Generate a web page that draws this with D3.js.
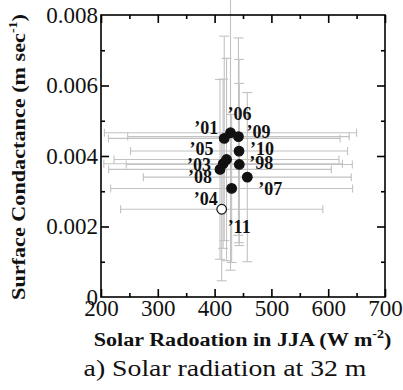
<!DOCTYPE html>
<html>
<head>
<meta charset="utf-8">
<script src="https://cdn.jsdelivr.net/npm/d3@7"></script>
<style>
  html, body { margin: 0; padding: 0; background: #fff; }
  svg { display: block; }
</style>
</head>
<body>
<svg id="chart" width="403" height="390"></svg>
<script>
// Summer (JJA) solar radiation vs. surface conductance, one point per year
const years        = ["’98", "’01", "’03", "’04", "’05", "’06", "’07", "’08", "’09", "’10", "’11"];
const radiation    = [443.5, 417, 415, 412.5, 421, 428, 457.6, 409.5, 442, 443, 430];
const radiationSd  = [199, 204, 210, 178, 198, 222, 183, 196, 195, 191, 213];
const conductance  = [0.00376, 0.0045, 0.00378, 0.00249, 0.0039, 0.00466, 0.0034, 0.00362, 0.00455, 0.00414, 0.00308];
const conductanceSd= [0.0023, 0.0029, 0.0024, 0.00203, 0.00287, 0.0039, 0.0024, 0.00255, 0.0028, 0.0026, 0.0021];
const openYears    = ["’04"];

const xTicks = [200, 300, 400, 500, 600, 700];
const yTicks = [0, 0.002, 0.004, 0.006, 0.008];
const yTickLabels = ["0", "0.002", "0.004", "0.006", "0.008"];

// label placement next to each marker (pixels)
const labelOffsets = [[10, 5], [-30, -4], [-36, 7], [-28, -4], [-37, -5], [-3, -13], [11, 18], [-32, 14], [8, 1], [11, 4], [-4, 45]];

const svg = d3.select("#chart");
const plotL = 101, plotR = 385, plotT = 15, plotB = 297;

const x = d3.scaleLinear().domain([200, 700]).range([plotL, plotR]);
const y = d3.scaleLinear().domain([0, 0.008]).range([plotB, plotT]);

const serif = "'Liberation Serif', 'Times New Roman', serif";

const rows = years.map((yr, i) => ({
  year: yr, rad: radiation[i], radSd: radiationSd[i],
  gs: conductance[i], gsSd: conductanceSd[i],
  open: openYears.includes(yr), off: labelOffsets[i]
}));

// error bars (±1 SD in both directions)
const errColor = "#c2c2c2";
const eb = svg.append("g").attr("stroke", errColor).attr("stroke-width", 1.1).attr("fill", "none");
const capH = 4, capV = 5;
rows.forEach(d => {
  const cx = x(d.rad), cy = y(d.gs);
  const x0 = x(d.rad - d.radSd), x1 = x(d.rad + d.radSd);
  const y0 = y(d.gs - d.gsSd), y1 = y(d.gs + d.gsSd);
  eb.append("line").attr("x1", x0).attr("x2", x1).attr("y1", cy).attr("y2", cy);
  eb.append("line").attr("x1", x0).attr("x2", x0).attr("y1", cy - capH).attr("y2", cy + capH);
  eb.append("line").attr("x1", x1).attr("x2", x1).attr("y1", cy - capH).attr("y2", cy + capH);
  eb.append("line").attr("x1", cx).attr("x2", cx).attr("y1", y0).attr("y2", y1);
  eb.append("line").attr("x1", cx - capV).attr("x2", cx + capV).attr("y1", y0).attr("y2", y0);
  eb.append("line").attr("x1", cx - capV).attr("x2", cx + capV).attr("y1", y1).attr("y2", y1);
});

// frame and inward ticks
const axes = svg.append("g");
function tickAxis(axisFn, scale, values, size, transform) {
  const g = axes.append("g").attr("transform", transform)
    .call(axisFn(scale).tickValues(values).tickSizeInner(size).tickSizeOuter(0).tickFormat(""));
  g.select(".domain").remove();
  g.selectAll(".tick line").attr("stroke", "#000").attr("stroke-width", 1.6);
  return g;
}
const xMajor = d3.range(200, 701, 100), xMinor = d3.range(250, 700, 100);
const yMajor = [0.002, 0.004, 0.006], yMinor = [0.001, 0.003, 0.005, 0.007];
tickAxis(d3.axisBottom, x, xMajor, -8, `translate(0,${plotB})`);
tickAxis(d3.axisBottom, x, xMinor, -4, `translate(0,${plotB})`);
tickAxis(d3.axisTop, x, xMajor, -8, `translate(0,${plotT})`);
tickAxis(d3.axisTop, x, xMinor, -4, `translate(0,${plotT})`);
tickAxis(d3.axisLeft, y, yMajor, -8, `translate(${plotL},0)`);
tickAxis(d3.axisLeft, y, yMinor, -4, `translate(${plotL},0)`);
tickAxis(d3.axisRight, y, yMajor, -8, `translate(${plotR},0)`);
tickAxis(d3.axisRight, y, yMinor, -4, `translate(${plotR},0)`);

axes.append("rect").attr("x", plotL).attr("y", plotT)
  .attr("width", plotR - plotL).attr("height", plotB - plotT)
  .attr("fill", "none").attr("stroke", "#000").attr("stroke-width", 1.6);

// tick labels
const xLab = svg.append("g").attr("transform", `translate(0,${plotB})`)
  .call(d3.axisBottom(x).tickValues(xTicks).tickSize(0).tickPadding(3).tickFormat(d3.format("d")));
xLab.select(".domain").remove();
xLab.attr("font-family", null);
xLab.selectAll("text").attr("font-family", serif).attr("font-size", 23).attr("fill", "#111");

const yLab = svg.append("g").attr("transform", `translate(${plotL},0)`)
  .call(d3.axisLeft(y).tickValues(yTicks).tickSize(0).tickPadding(3)
    .tickFormat((d, i) => yTickLabels[i]));
yLab.select(".domain").remove();
yLab.attr("font-family", null);
yLab.selectAll("text").attr("font-family", serif).attr("font-size", 23).attr("fill", "#111");

// markers
svg.append("g").selectAll("circle").data(rows).join("circle")
  .attr("cx", d => x(d.rad)).attr("cy", d => y(d.gs)).attr("r", 4.8)
  .attr("fill", d => d.open ? "#fff" : "#111")
  .attr("stroke", "#111").attr("stroke-width", 1.2);

// year labels
svg.append("g").selectAll("text").data(rows).join("text")
  .attr("x", d => x(d.rad) + d.off[0]).attr("y", d => y(d.gs) + d.off[1])
  .attr("font-family", serif).attr("font-weight", "bold").attr("font-size", 18)
  .attr("fill", "#111").text(d => d.year);

// stretch a centred text horizontally so it spans the given width
function fitWidth(sel, width, base) {
  const w = sel.node().getComputedTextLength();
  sel.attr("transform", `${base} scale(${width / w},1)`);
}

// axis titles
const xt = svg.append("text").attr("text-anchor", "middle")
  .attr("font-family", serif).attr("font-weight", "bold").attr("font-size", 19).attr("fill", "#111");
xt.append("tspan").text("Solar Radoation in JJA (W m");
xt.append("tspan").attr("dy", -8).attr("font-size", 12).text("-2");
xt.append("tspan").attr("dy", 8).text(")");
fitWidth(xt, 298, "translate(242.5,346)");

const yt = svg.append("text").attr("text-anchor", "middle")
  .attr("font-family", serif).attr("font-weight", "bold").attr("font-size", 19).attr("fill", "#111");
yt.append("tspan").text("Surface Condactance (m sec");
yt.append("tspan").attr("dy", -8).attr("font-size", 12).text("-1");
yt.append("tspan").attr("dy", 8).text(")");
fitWidth(yt, 286, "translate(25,157) rotate(-90)");

const cap = svg.append("text").attr("text-anchor", "middle")
  .attr("font-family", serif).attr("font-size", 23).attr("fill", "#111")
  .text("a) Solar radiation at 32 m");
fitWidth(cap, 283, "translate(225,376)");
</script>
</body>
</html>
